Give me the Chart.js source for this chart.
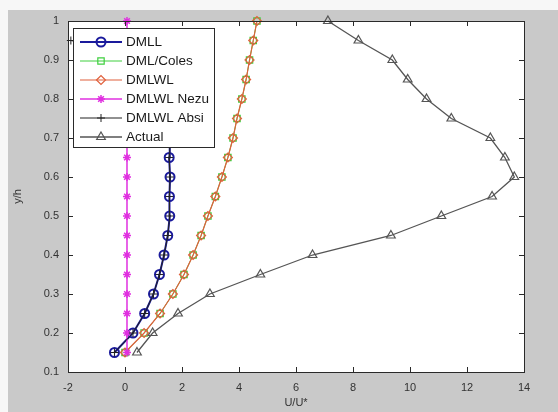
<!DOCTYPE html>
<html>
<head>
<meta charset="utf-8">
<script src="https://cdn.jsdelivr.net/npm/chart.js@4/dist/chart.umd.min.js"></script>
<style>
html,body{margin:0;padding:0;background:#fafafa;}
#wrap{width:558px;height:412px;}
</style>
</head>
<body>
<div id="wrap"><canvas id="c" width="558" height="412"></canvas></div>
<script>
// ---- data ----
const yLevels = [0.15,0.2,0.25,0.3,0.35,0.4,0.45,0.5,0.55,0.6,0.65,0.7,0.75,0.8,0.85,0.9,0.95,1.0];
const dmll     = [-0.37,0.28,0.69,1.0,1.21,1.37,1.5,1.57,1.56,1.58,1.55,1.57,1.59,1.6,1.61,1.62,1.63];
const dmlColes = [0.0,0.67,1.23,1.68,2.07,2.39,2.67,2.91,3.17,3.4,3.61,3.79,3.93,4.1,4.25,4.37,4.5,4.63];
const dmlwl    = [0.0,0.67,1.23,1.68,2.07,2.39,2.67,2.91,3.17,3.4,3.61,3.79,3.93,4.1,4.25,4.37,4.5,4.63];
const nezu     = [0.07,0.07,0.07,0.07,0.07,0.07,0.07,0.07,0.07,0.07,0.07,0.07,0.07,0.07,0.07,0.07,0.07,0.07];
const absi     = [-0.37,0.28,0.69,1.0,1.21,1.37,1.5,1.57,1.56,1.58,1.55,1.57,1.59,1.6,1.61,1.62,-1.9];
const actual   = [0.42,0.97,1.86,2.98,4.75,6.58,9.33,11.1,12.88,13.66,13.33,12.82,11.45,10.58,9.92,9.38,8.19,7.12];
const seriesNames = ['DMLL','DML/Coles','DMLWL','DMLWL Nezu','DMLWL Absi','Actual'];
const xTicks = [-2,0,2,4,6,8,10,12,14];
const yTicks = [0.1,0.2,0.3,0.4,0.5,0.6,0.7,0.8,0.9,1];

function pts(xs){ return xs.map((x,i)=>({x:x,y:yLevels[i]})); }

const styles = [
  {color:'#1a1a9c', line:2, point:'circle', r:4.5, bw:2},
  {color:'#3fcf3f', line:1, point:'rect', r:4.5, bw:1.2},
  {color:'#e0603c', line:1.2, point:'rectRot', r:4.5, bw:1.2},
  {color:'#e030e0', line:1.5, point:'star', r:4, bw:1.5},
  {color:'#222222', line:1, point:'cross', r:4, bw:1},
  {color:'#555555', line:1.3, point:'triangle', r:5, bw:1.2}
];
const vals = [dmll, dmlColes, dmlwl, nezu, absi, actual];

const datasets = vals.map((v,i)=>({
  label: seriesNames[i],
  data: pts(v),
  showLine: true,
  borderColor: styles[i].color,
  borderWidth: styles[i].line,
  pointStyle: styles[i].point,
  pointRadius: styles[i].r,
  pointBorderColor: styles[i].color,
  pointBorderWidth: styles[i].bw,
  pointBackgroundColor: 'rgba(0,0,0,0)',
  backgroundColor: 'rgba(0,0,0,0)',
  tension: 0,
  clip: 12,
  order: 10 - i
}));

const FONT = '"Liberation Sans", Arial, sans-serif';

const bgPlugin = {
  id:'bg',
  beforeDraw(chart){
    const ctx = chart.ctx, a = chart.chartArea;
    ctx.save();
    ctx.fillStyle = '#f7f7f7';
    ctx.fillRect(0,0,chart.width,chart.height);
    ctx.fillStyle = '#c9c9c9';
    ctx.fillRect(8,10,chart.width-8,chart.height-10);
    ctx.fillStyle = '#ffffff';
    ctx.fillRect(a.left,a.top,a.right-a.left,a.bottom-a.top);
    ctx.restore();
  },
  afterDatasetsDraw(chart){
    const ctx = chart.ctx, a = chart.chartArea;
    const xs = chart.scales.x, ys = chart.scales.y;
    ctx.save();
    ctx.strokeStyle = '#2a2a2a';
    ctx.lineWidth = 1;
    ctx.strokeRect(Math.round(a.left)+0.5, Math.round(a.top)+0.5, Math.round(a.right-a.left), Math.round(a.bottom-a.top));
    ctx.beginPath();
    xTicks.forEach(t=>{
      const px = Math.round(xs.getPixelForValue(t))+0.5;
      ctx.moveTo(px,a.bottom); ctx.lineTo(px,a.bottom-5);
      ctx.moveTo(px,a.top); ctx.lineTo(px,a.top+5);
    });
    yTicks.forEach(t=>{
      const py = Math.round(ys.getPixelForValue(t))+0.5;
      ctx.moveTo(a.left,py); ctx.lineTo(a.left+5,py);
      ctx.moveTo(a.right,py); ctx.lineTo(a.right-5,py);
    });
    ctx.stroke();

    // legend box (opaque, inside the axes, like MATLAB)
    const L=73, T=28, R=214, B=147;
    ctx.fillStyle = '#ffffff';
    ctx.fillRect(L,T,R-L,B-T);
    ctx.strokeStyle = '#2a2a2a';
    ctx.lineWidth = 1;
    ctx.strokeRect(L+0.5,T+0.5,R-L,B-T);
    const rows = [42,61,80,99,118,137];
    ctx.font = '13.5px ' + FONT;
    ctx.textBaseline = 'middle';
    ctx.textAlign = 'left';
    datasets.forEach((d,i)=>{
      const y = rows[i];
      ctx.strokeStyle = d.borderColor;
      ctx.lineWidth = d.borderWidth;
      ctx.beginPath(); ctx.moveTo(80,y); ctx.lineTo(122,y); ctx.stroke();
      ctx.fillStyle = 'rgba(0,0,0,0)';
      ctx.strokeStyle = d.pointBorderColor;
      ctx.lineWidth = d.pointBorderWidth;
      Chart.helpers.drawPoint(ctx, {pointStyle:d.pointStyle, radius:d.pointRadius, borderWidth:d.pointBorderWidth, rotation:0}, 101, y);
      ctx.fillStyle = '#1a1a1a';
      ctx.fillText(d.label, 126, y+0.5);
    });
    ctx.restore();
  }
};

new Chart(document.getElementById('c'), {
  type:'scatter',
  data:{datasets:datasets},
  options:{
    responsive:false,
    animation:false,
    devicePixelRatio:1,
    layout:{padding:{left:0, top:21, right:34, bottom:0}},
    plugins:{legend:{display:false}, tooltip:{enabled:false}, title:{display:false}},
    scales:{
      x:{
        type:'linear', min:-2, max:14,
        afterBuildTicks(s){ s.ticks = xTicks.map(v=>({value:v})); },
        afterFit(s){ s.height = 40; },
        grid:{display:false, drawTicks:false},
        border:{display:false},
        ticks:{font:{family:FONT,size:11}, color:'#333', padding:9, maxRotation:0, autoSkip:false,
               callback:(v)=>String(v)},
        title:{display:true, text:'U/U*', font:{family:FONT,size:11}, color:'#333', padding:{top:0,bottom:2}}
      },
      y:{
        type:'linear', min:0.1, max:1,
        afterBuildTicks(s){ s.ticks = yTicks.map(v=>({value:v})); },
        afterFit(s){ s.width = 68; },
        grid:{display:false, drawTicks:false},
        border:{display:false},
        ticks:{font:{family:FONT,size:11}, color:'#333', padding:9, autoSkip:false,
               callback:(v)=>String(+Number(v).toFixed(2))},
        title:{display:true, text:'y/h', font:{family:FONT,size:11}, color:'#333', padding:{top:11,bottom:0}}
      }
    }
  },
  plugins:[bgPlugin]
});
</script>
</body>
</html>
